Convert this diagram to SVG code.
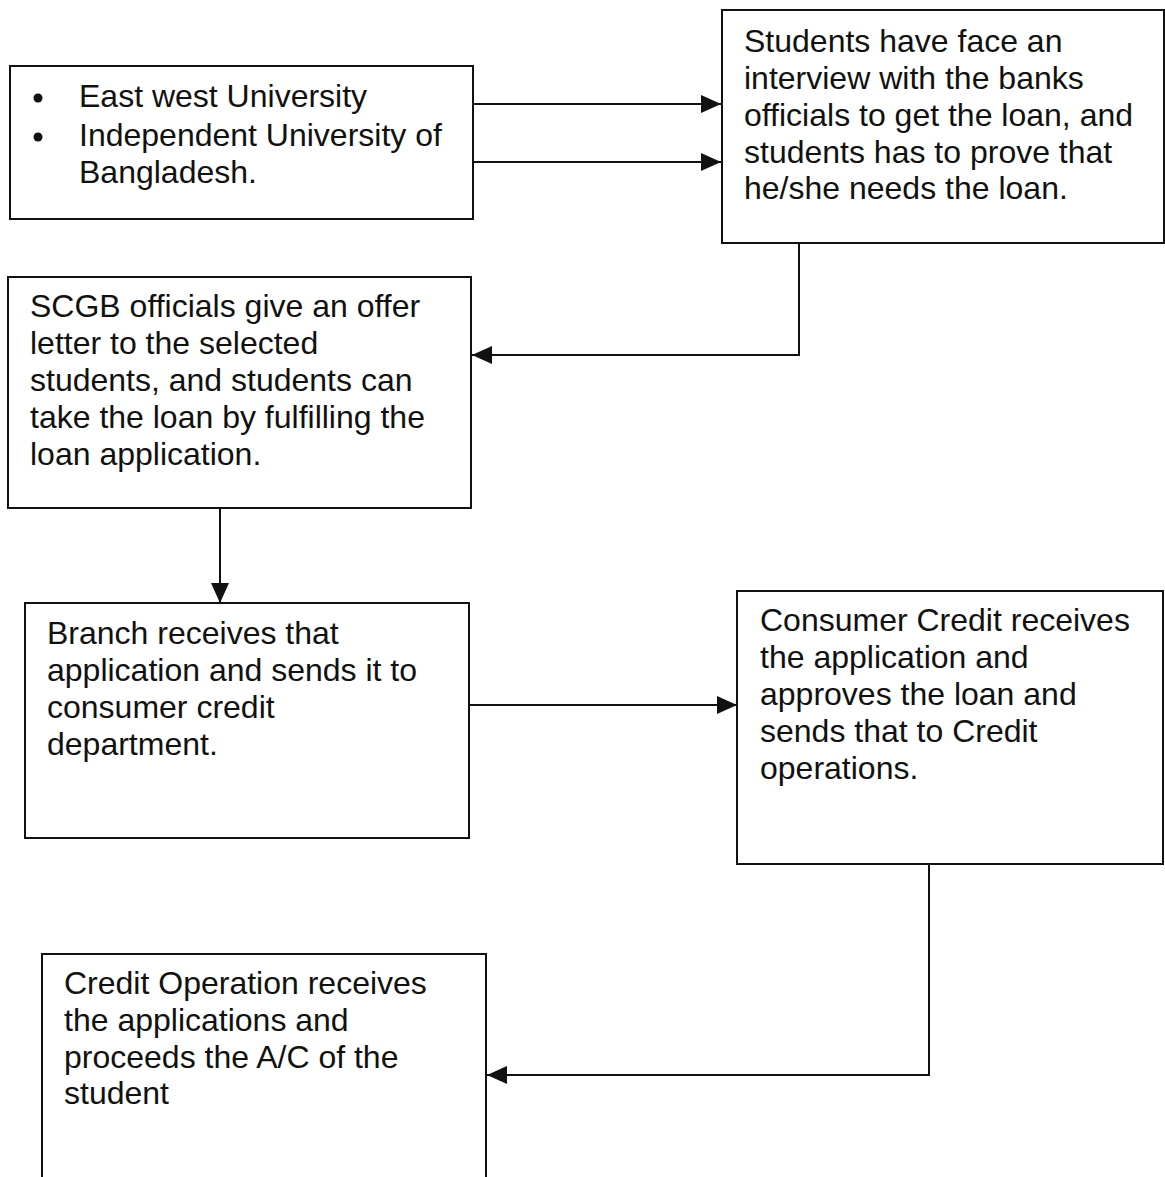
<svg xmlns="http://www.w3.org/2000/svg" width="1165" height="1177" viewBox="0 0 1165 1177">
<defs>
<style>
.box{fill:#fff;stroke:#111;stroke-width:2}
.t{font-family:"Liberation Sans",Arial,sans-serif;font-size:32px;fill:#111}
.c{fill:none;stroke:#111;stroke-width:2}
</style>
<marker id="ah" viewBox="0 0 20 18" refX="20" refY="9" markerWidth="20" markerHeight="18" markerUnits="userSpaceOnUse" orient="auto">
<path d="M0,0L20,9L0,18z" fill="#111"/>
</marker>
</defs>
<rect width="1165" height="1177" fill="#fff"/>
<g id="connectors">
<path class="c" d="M473,104H721" marker-end="url(#ah)"/>
<path class="c" d="M473,162H721" marker-end="url(#ah)"/>
<path class="c" d="M799,243V355H472" marker-end="url(#ah)"/>
<path class="c" d="M220,508V603" marker-end="url(#ah)"/>
<path class="c" d="M469,705H737" marker-end="url(#ah)"/>
<path class="c" d="M929,864V1075H487" marker-end="url(#ah)"/>
</g>
<g id="n1">
<rect class="box" x="10" y="66" width="463" height="153"/>
<circle cx="38" cy="98" r="4.5" fill="#111"/>
<circle cx="38" cy="137" r="4.5" fill="#111"/>
<text class="t" x="79" y="107">East west University</text>
<text class="t" x="79" y="146">Independent University of</text>
<text class="t" x="79" y="183">Bangladesh.</text>
</g>
<g id="n2">
<rect class="box" x="722" y="10" width="442" height="233"/>
<text class="t" x="744" y="52">Students have face an</text>
<text class="t" x="744" y="89">interview with the banks</text>
<text class="t" x="744" y="126">officials to get the loan, and</text>
<text class="t" x="744" y="163">students has to prove that</text>
<text class="t" x="744" y="199">he/she needs the loan.</text>
</g>
<g id="n3">
<rect class="box" x="8" y="277" width="463" height="231"/>
<text class="t" x="30" y="317">SCGB officials give an offer</text>
<text class="t" x="30" y="354">letter to the selected</text>
<text class="t" x="30" y="391">students, and students can</text>
<text class="t" x="30" y="428">take the loan by fulfilling the</text>
<text class="t" x="30" y="465">loan application.</text>
</g>
<g id="n4">
<rect class="box" x="25" y="603" width="444" height="235"/>
<text class="t" x="47" y="644">Branch receives that</text>
<text class="t" x="47" y="681">application and sends it to</text>
<text class="t" x="47" y="718">consumer credit</text>
<text class="t" x="47" y="755">department.</text>
</g>
<g id="n5">
<rect class="box" x="737" y="591" width="426" height="273"/>
<text class="t" x="760" y="631">Consumer Credit receives</text>
<text class="t" x="760" y="668">the application and</text>
<text class="t" x="760" y="705">approves the loan and</text>
<text class="t" x="760" y="742">sends that to Credit</text>
<text class="t" x="760" y="779">operations.</text>
</g>
<g id="n6">
<path class="box" d="M42,1180V954H486V1180"/>
<text class="t" x="64" y="994">Credit Operation receives</text>
<text class="t" x="64" y="1031">the applications and</text>
<text class="t" x="64" y="1068">proceeds the A/C of the</text>
<text class="t" x="64" y="1104">student</text>
</g>
</svg>
